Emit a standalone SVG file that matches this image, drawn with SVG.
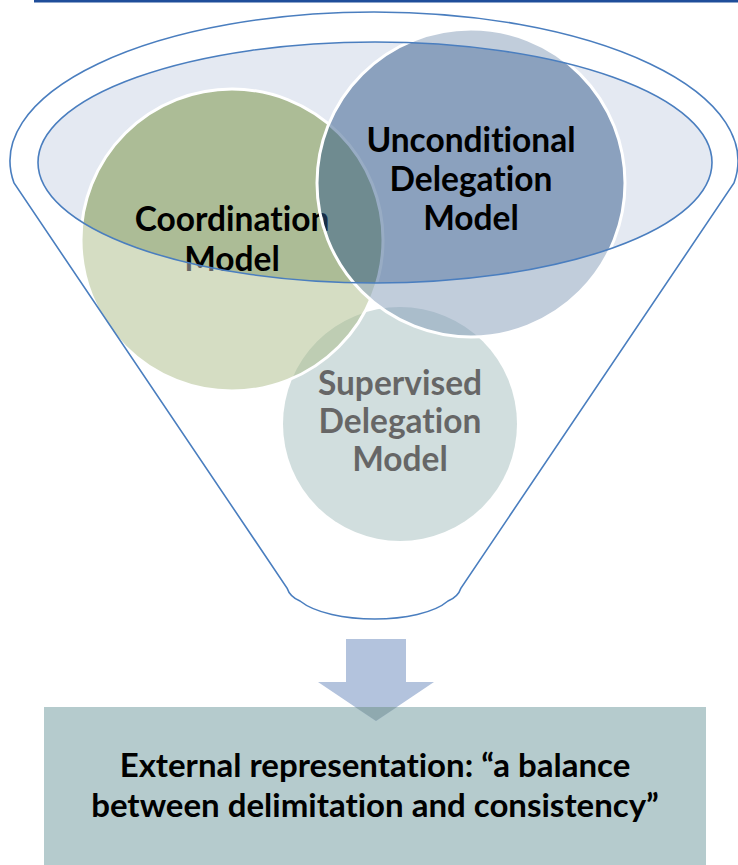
<svg xmlns="http://www.w3.org/2000/svg" width="738" height="865" viewBox="0 0 738 865">
  <style>
    .label { font-family: Lato, "Noto Sans", "Liberation Sans", sans-serif; font-weight: 700; text-anchor: middle; fill: #000; font-variant-ligatures: none; font-feature-settings: "liga" 0; }
    .circle-label { font-size: 33.5px; }
    .box-label { font-size: 33px; }
    .outline { fill: none; stroke: #4A7EBF; stroke-width: 1.6; }
    .disc { stroke: #FFFFFF; stroke-width: 3; fill-opacity: 0.5; }
  </style>

  <rect width="738" height="865" fill="#FFFFFF"/>

  <!-- funnel mouth: filled ellipse behind the discs -->
  <ellipse id="mouth-fill" cx="375" cy="162.5" rx="337" ry="120.5" fill="#E4E9F2"/>

  <!-- three overlapping model discs -->
  <g id="supervised">
    <circle cx="400" cy="424" r="117" fill="#B3C8C8" stroke="none"/>
    <text class="label circle-label" x="400" y="395">Supervised</text>
    <text class="label circle-label" x="400" y="433">Delegation</text>
    <text class="label circle-label" x="400" y="471">Model</text>
  </g>
  <g id="coordination">
    <circle class="disc" cx="232" cy="240" r="151" fill="#749039"/>
    <text class="label circle-label" x="232" y="231">Coordination</text>
    <text class="label circle-label" x="232" y="271">Model</text>
  </g>
  <g id="unconditional">
    <circle class="disc" cx="471" cy="183" r="154" fill="#31598A"/>
    <text class="label circle-label" x="471" y="152">Unconditional</text>
    <text class="label circle-label" x="471" y="191">Delegation</text>
    <text class="label circle-label" x="471" y="230">Model</text>
  </g>

  <!-- light veil over everything outside the mouth ellipse -->
  <path id="veil" fill="#FFFFFF" fill-opacity="0.4" fill-rule="evenodd"
        d="M0 0 H738 V640 H0 Z M38 162.5 A337 120.5 0 1 0 712 162.5 A337 120.5 0 1 0 38 162.5 Z"/>

  <!-- funnel outlines -->
  <g id="funnel">
    <ellipse class="outline" cx="375" cy="162.5" rx="337" ry="120.5"/>
    <path class="outline" d="M14 183 A364 149 0 1 1 734 183 L461 588 Q458 597 448 601 C420 625 330 625 300 601 Q290 597 287 588 Z"/>
  </g>

  <!-- top rule -->
  <rect x="34" y="0" width="704" height="2.5" fill="#1F4E9A"/>

  <!-- result box -->
  <g id="result">
    <rect x="44" y="707" width="662" height="160" fill="#B5CBCD"/>
    <text class="label box-label" x="375" y="777">External representation: “a balance</text>
    <text class="label box-label" x="375" y="817">between delimitation and consistency”</text>
  </g>

  <!-- downward flow arrow into the box -->
  <g id="connectors">
    <path d="M346 639 H406 V682 H434 L376 721 L318 682 H346 Z" fill="#B3C3DD"/>
    <path d="M355 707 H397 L376 721 Z" fill="#8FA9AF"/>
  </g>
</svg>
